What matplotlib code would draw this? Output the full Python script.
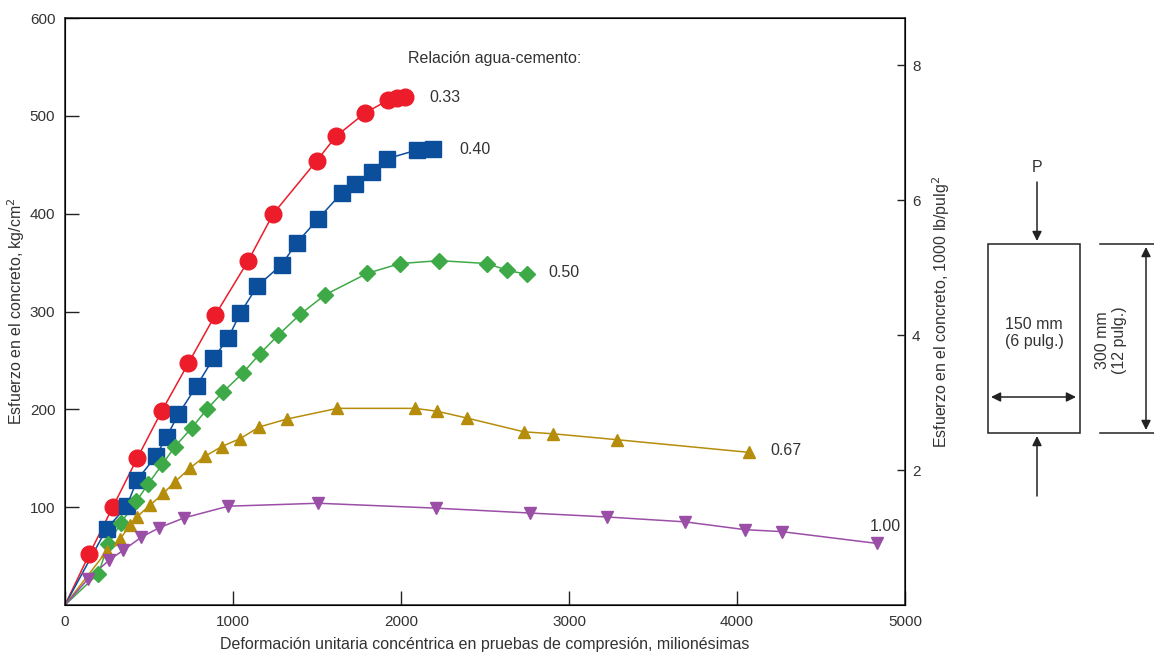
import numpy as np
import matplotlib
matplotlib.use("Agg")
import matplotlib.pyplot as plt

plt.rcParams['font.family'] = ['Liberation Sans', 'DejaVu Sans']

# strain (millionths) and stress (kg/cm2), per water-cement ratio
strain_033 = [0, 145, 284, 430, 575, 734, 893, 1091, 1240, 1498, 1613, 1786, 1924, 1974, 2024]
stress_033 = [0, 52, 100, 150, 198, 247, 296, 352, 400, 454, 479, 503, 516, 518, 519]

strain_040 = [0, 248, 367, 430, 540, 605, 675, 784, 883, 972, 1042, 1145, 1290, 1379, 1508,
              1647, 1726, 1825, 1915, 2093, 2192]
stress_040 = [0, 78, 101, 128, 152, 172, 195, 224, 252, 273, 298, 326, 348, 370, 395,
              421, 430, 443, 456, 465, 466]

strain_050 = [0, 198, 258, 333, 425, 496, 580, 655, 754, 844, 942, 1058, 1161, 1270, 1399,
              1548, 1799, 1994, 2228, 2514, 2633, 2752]
stress_050 = [0, 32, 62, 84, 106, 124, 144, 162, 181, 200, 218, 237, 257, 276, 297,
              317, 339, 349, 352, 349, 342, 338]

strain_067 = [0, 248, 327, 387, 427, 506, 585, 655, 744, 833, 933, 1042, 1157, 1319, 1621,
              2083, 2216, 2395, 2732, 2907, 3283, 4073]
stress_067 = [0, 55, 67, 82, 90, 102, 114, 126, 140, 152, 162, 170, 182, 190, 201,
              201, 198, 191, 177, 175, 169, 156]

strain_100 = [0, 139, 264, 347, 452, 561, 708, 972, 1508, 2208, 2768, 3224, 3690, 4048, 4266, 4831]
stress_100 = [0, 27, 46, 56, 69, 79, 89, 101, 104, 99, 94, 90, 85, 77, 75, 63]

ratio_labels = ['0.33', '0.40', '0.50', '0.67', '1.00']
KG_TO_KSI = 14.5 / 1000.0

series = [
    (strain_033, stress_033, '#ec1c2a', 'o', 12),
    (strain_040, stress_040, '#0b4e9c', 's', 11),
    (strain_050, stress_050, '#3daa47', 'D', 8),
    (strain_067, stress_067, '#b58d0b', '^', 9),
    (strain_100, stress_100, '#9a4ea6', 'v', 9),
]
label_pos = [(2170, 519), (2350, 466), (2880, 340), (4200, 158), (4790, 80)]

fig = plt.figure(figsize=(11.54, 6.56), dpi=100)
ax = fig.add_axes([65 / 1154, 1 - 605 / 656, 840 / 1154, 587 / 656])

txt = '#333333'
fs = 11.5
for (xs, ys, col, mk, ms), lab, (lx, ly) in zip(series, ratio_labels, label_pos):
    ax.plot(xs, ys, color=col, lw=1.1, zorder=2)
    ax.plot(xs[1:], ys[1:], ls='none', marker=mk, ms=ms, color=col, mec=col, zorder=3)
    ax.text(lx, ly, lab, fontsize=fs, color=txt, va='center', ha='left')

ax.text(2560, 559, 'Relación agua-cemento:', fontsize=fs, color=txt, ha='center', va='center')

ax.set_xlim(0, 5000)
ax.set_ylim(0, 600)
ax.set_xticks([0, 1000, 2000, 3000, 4000, 5000])
ax.set_yticks([100, 200, 300, 400, 500, 600])
ax.tick_params(direction='in', length=10, width=1, colors='#222222', labelcolor=txt, labelsize=11)
ax.tick_params(axis='y', pad=7)
ax.tick_params(axis='x', pad=7)
ax.set_xlabel('Deformación unitaria concéntrica en pruebas de compresión, milionésimas',
              fontsize=fs, color=txt, labelpad=6)
ax.set_ylabel('Esfuerzo en el concreto, kg/cm$^2$', fontsize=fs, color=txt, labelpad=2)
for s in ax.spines.values():
    s.set_color('#222222')
    s.set_linewidth(1.1)

ax2 = ax.twinx()
ax2.set_ylim(0, 600 * KG_TO_KSI)
ax2.set_yticks([2, 4, 6, 8])
ax2.tick_params(direction='in', length=6, width=1, colors='#222222', labelcolor=txt,
                labelsize=11, pad=5)
ax2.set_ylabel('Esfuerzo en el concreto, 1000 lb/pulg$^2$', fontsize=fs, color=txt, labelpad=7)

# specimen sketch on the right, drawn in figure pixels
ov = fig.add_axes([0, 0, 1, 1], facecolor='none')
ov.set_xlim(0, 1154)
ov.set_ylim(656, 0)
ov.axis('off')
lc = '#222222'
ov.add_patch(plt.Rectangle((988, 244), 92, 189, fill=False, ec=lc, lw=1.1))
arr = dict(arrowstyle='-|>', color=lc, lw=1.1, mutation_scale=14, shrinkA=0, shrinkB=0)
ov.annotate('', xy=(1037, 241), xytext=(1037, 182), arrowprops=arr)
ov.annotate('', xy=(1037, 436), xytext=(1037, 496), arrowprops=arr)
darr = dict(arrowstyle='<|-|>', color=lc, lw=1.1, mutation_scale=14, shrinkA=0, shrinkB=0)
ov.annotate('', xy=(991, 397), xytext=(1076, 397), arrowprops=darr)
ov.annotate('', xy=(1146, 247), xytext=(1146, 430), arrowprops=darr)
ov.plot([1100, 1154], [244, 244], color=lc, lw=1.1)
ov.plot([1100, 1154], [433, 433], color=lc, lw=1.1)
ov.text(1037, 167, 'P', fontsize=fs, color=txt, ha='center', va='center')
ov.text(1034, 333, '150 mm\n(6 pulg.)', fontsize=fs, color=txt, ha='center', va='center',
        linespacing=1.15)
ov.text(1111, 340, '300 mm\n(12 pulg.)', fontsize=fs, color=txt, ha='center', va='center',
        rotation=90, linespacing=1.15)

fig.savefig('out.png', dpi=100)
